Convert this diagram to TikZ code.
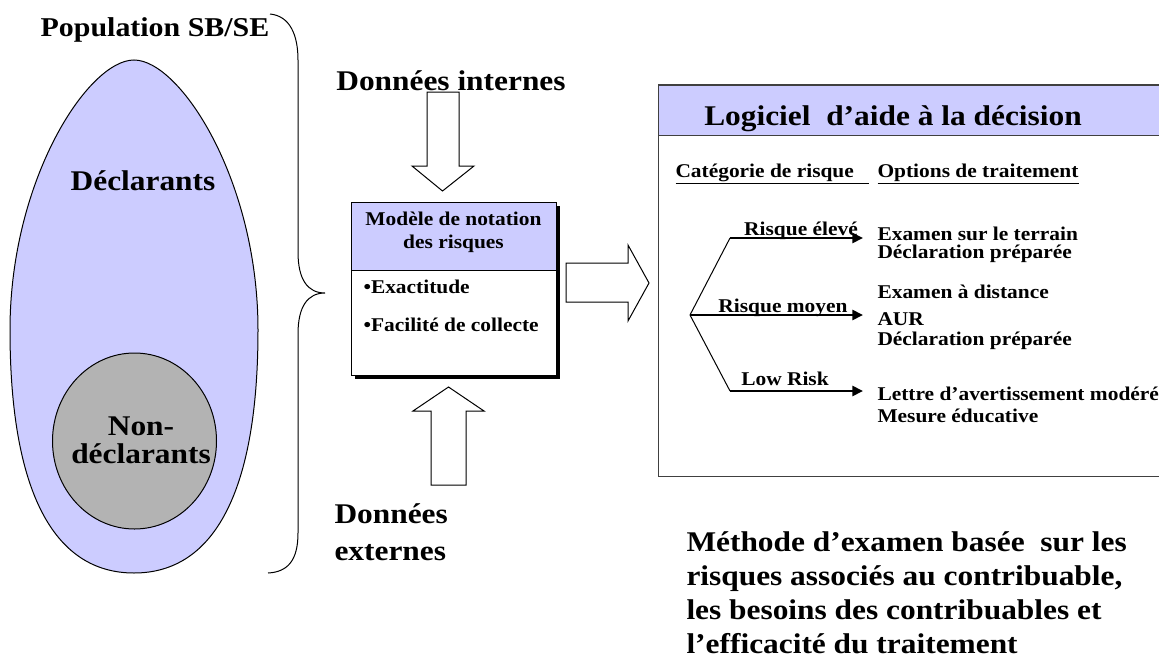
\documentclass[tikz,border=0pt]{standalone}
\usepackage{fontspec}
\setmainfont{Liberation Serif}[FakeStretch=1.1]
\usetikzlibrary{arrows.meta}
\definecolor{lavender}{RGB}{204,204,255}
\definecolor{greydisk}{RGB}{179,179,179}
\tikzset{every picture/.style={line width=0.75pt}}
\tikzset{
  bigtxt/.style={font=\fontsize{21.4}{#1}\selectfont\bfseries, inner sep=0pt},
  bigtxt/.default=21,
  smalltxt/.style={font=\fontsize{14.6}{#1}\selectfont\bfseries, inner sep=0pt},
  smalltxt/.default=17,
  riskarrow/.style={line width=2pt, -{Triangle[length=8pt,width=7.5pt]}},
}

\begin{document}
\begin{tikzpicture}[x=0.75pt,y=0.75pt,yscale=-1,xscale=1]
\useasboundingbox (0,0) rectangle (1159,660);

%Shape: Egg [population]
\draw[fill=lavender] (134,60) .. controls (180,60) and (258,180) .. (258,330) .. controls (258,490) and (215,573) .. (134,573) .. controls (53,573) and (10,490) .. (10,330) .. controls (10,180) and (88,60) .. (134,60) -- cycle;
%Shape: Circle [non-declarants]
\draw[fill=greydisk] (134.5,441) ellipse [x radius=82, y radius=88];

%Shape: Brace
\draw (270,14) .. controls (290,16) and (298,35) .. (298,60) -- (298,252) .. controls (298,280) and (308,293) .. (325,293) .. controls (308,293) and (298,306) .. (298,334) -- (298,533) .. controls (298,560) and (288,572) .. (268,573);

%Shape: Down Arrow
\draw[fill=white] (427,92) -- (459,92) -- (459,166) -- (474,166) -- (442.5,191) -- (412,166) -- (427,166) -- cycle;
%Shape: Up Arrow
\draw[fill=white] (431,485) -- (466,485) -- (466,411) -- (484,411) -- (448.5,387) -- (413,411) -- (431,411) -- cycle;
%Shape: Right Arrow
\draw[fill=white] (566,263) -- (628,263) -- (628,245) -- (649,283) -- (628,321) -- (628,302) -- (566,302) -- cycle;

%Shape: Rating model box
\fill (355,206) rectangle (560,379);
\draw[fill=white] (351,202) rectangle (556,375);
\draw[fill=lavender] (351,202) rectangle (556,270);

%Shape: Decision software box
\draw[draw=black!75, fill=white] (658,85) rectangle (1175,476);
\draw[draw=black!75, fill=lavender] (658,85) rectangle (1175,135);

%Risk tree
\coordinate (root) at (690,315);
\coordinate (hibend) at (730,238);
\coordinate (lowbend) at (730,391);
\coordinate (hiend) at (863,238);
\coordinate (midend) at (863,315);
\coordinate (lowend) at (863,391);
\draw (root) -- (hibend);
\draw (root) -- (lowbend);
\draw[riskarrow] (hibend) -- (hiend);
\draw[riskarrow] (root) -- (midend);
\draw[riskarrow] (lowbend) -- (lowend);

% Text Node
\node[bigtxt, anchor=base, font=\fontsize{20.4}{21}\selectfont\bfseries] (pop) at (155,37) {Population SB/SE};
% Text Node
\node[bigtxt, anchor=base] (decl) at (143,190) {Déclarants};
% Text Node
\node[bigtxt, anchor=base, align=center] (nondecl) at (141,463) {Non-\\déclarants};
% Text Node
\node[bigtxt, anchor=base] (intern) at (451,90) {Données internes};
% Text Node
\node[bigtxt=27.75, anchor=base west, align=left] (extern) at (334,560) {Données\\externes};
% Text Node
\node[smalltxt=17.25, anchor=base, align=center] (modele) at (453.5,248) {Modèle de notation\\des risques};
% Text Node
\node[smalltxt=28, anchor=base west, align=left] (criteres) at (363,331) {•Exactitude\\•Facilité de collecte};
% Text Node
\node[bigtxt, anchor=base] (logiciel) at (893,125) {Logiciel\ \ d’aide à la décision};
% Text Node
\node[smalltxt, anchor=base west] (cat) at (675,177) {\underline{Catégorie de risque\hspace{11pt}}};
% Text Node
\node[smalltxt, anchor=base west] (opt) at (877,177) {\underline{Options de traitement}};
% Text Node
\node[smalltxt, anchor=base] (hi) at (801,235) {Risque élevé};
% Text Node
\node[smalltxt, anchor=base] (mid) at (783,312) {Risque moyen};
% Text Node
\node[smalltxt, anchor=base] (low) at (785,385) {Low Risk};
% Text Node
\node[smalltxt=13.5, anchor=base west, align=left] (opthi) at (877,258) {Examen sur le terrain\\Déclaration préparée};
% Text Node
\node[smalltxt=15, anchor=base west, align=left] (optmid) at (877,345) {Examen à distance\\[5pt]AUR\\Déclaration préparée};
% Text Node
\node[smalltxt=16, anchor=base west, align=left] (optlow) at (877,422) {Lettre d’avertissement modéré\\Mesure éducative};
% Text Node
\node[bigtxt=25.3, anchor=base west, align=left] (methode) at (686,653) {Méthode d’examen basée\ \ sur les\\risques associés au contribuable,\\les besoins des contribuables et\\l’efficacité du traitement};

\end{tikzpicture}
\end{document}
